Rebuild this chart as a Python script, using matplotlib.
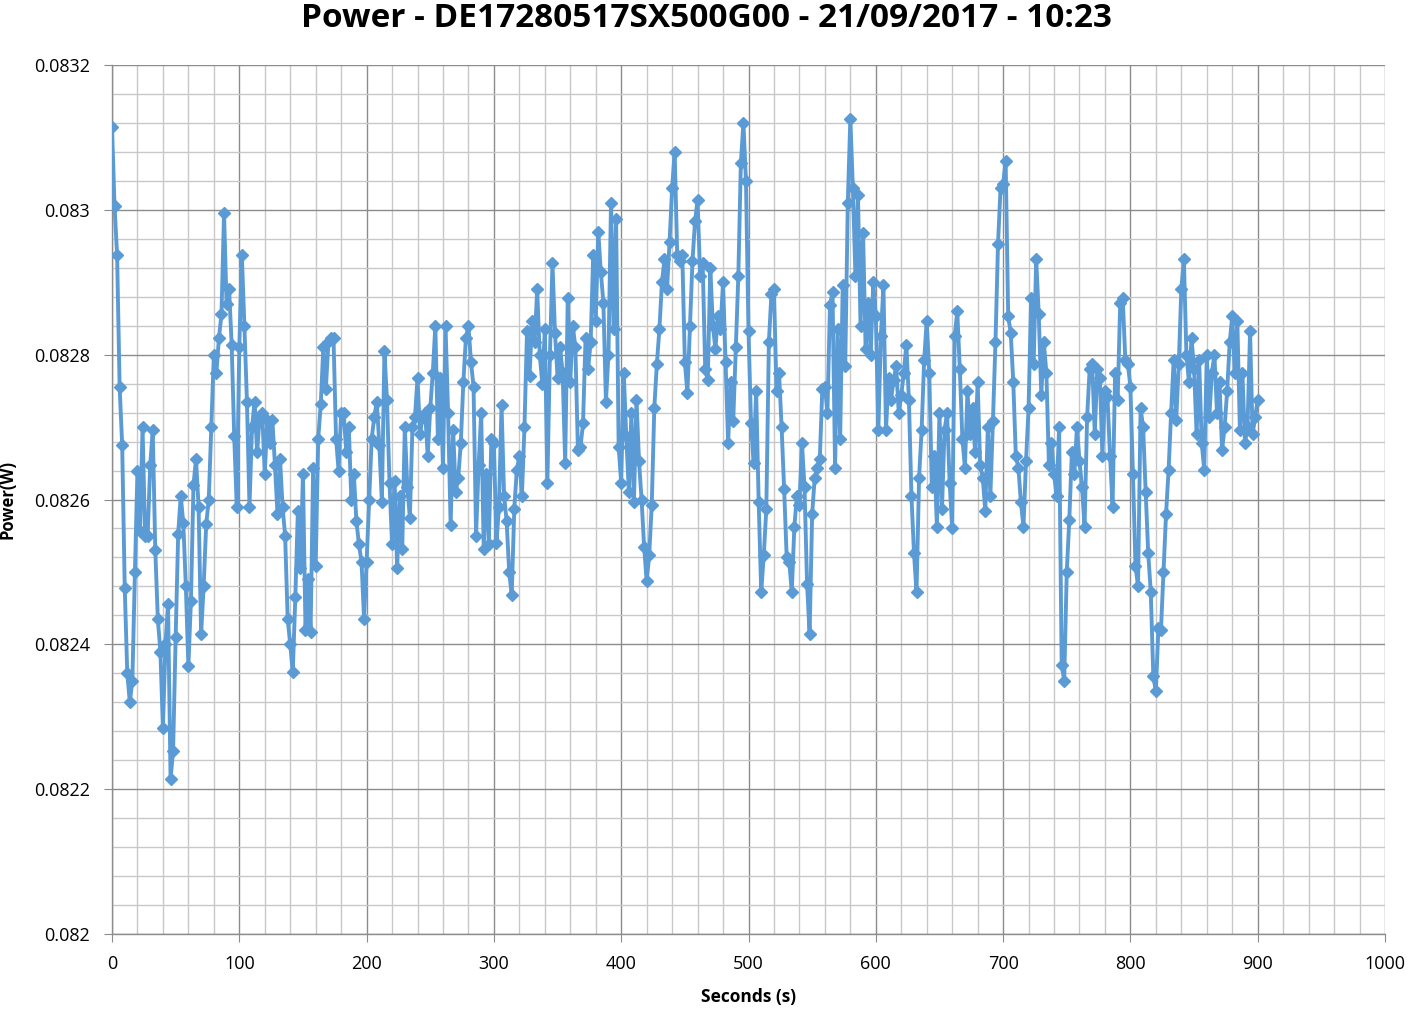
import numpy as np
import matplotlib
matplotlib.use("Agg")
import matplotlib.pyplot as plt
from matplotlib.ticker import MultipleLocator, FuncFormatter

title = "Power - DE17280517SX500G00 - 21/09/2017 - 10:23"
x_label = "Seconds (s)"
y_label = "Power(W)"

# sample interval (s) of the readings below
step_s = 2

# power readings in mW, one every step_s seconds starting at 0 s
power_0_180 = [
    83.115, 83.005, 82.938, 82.755, 82.675, 82.478, 82.36, 82.32, 82.35, 82.50,
    82.64, 82.556, 82.70, 82.55, 82.55, 82.647, 82.696, 82.53, 82.435, 82.39,
    82.284, 82.40, 82.456, 82.214, 82.253, 82.41, 82.553, 82.605, 82.568, 82.48,
    82.37, 82.46, 82.62, 82.656, 82.59, 82.414, 82.48, 82.566, 82.60, 82.70,
    82.80, 82.775, 82.823, 82.856, 82.996, 82.87, 82.89, 82.814, 82.687, 82.59,
    82.81, 82.938, 82.84, 82.735, 82.59, 82.70, 82.735, 82.665, 82.714, 82.72,
    82.635, 82.71, 82.678, 82.71, 82.647, 82.58, 82.656, 82.59, 82.55, 82.435,
    82.40, 82.362, 82.465, 82.584, 82.505, 82.635, 82.42, 82.49, 82.417, 82.644,
    82.508, 82.684, 82.732, 82.81, 82.753, 82.817, 82.823, 82.823, 82.684, 82.64,
    82.72,
]
power_182_366 = [
    82.72, 82.665, 82.70, 82.60, 82.635, 82.57, 82.538, 82.514, 82.435, 82.514,
    82.60, 82.684, 82.714, 82.735, 82.675, 82.596, 82.805, 82.738, 82.623, 82.538,
    82.626, 82.505, 82.605, 82.532, 82.70, 82.617, 82.575, 82.70, 82.714, 82.768,
    82.69, 82.714, 82.72, 82.66, 82.726, 82.775, 82.84, 82.684, 82.768, 82.644,
    82.84, 82.72, 82.565, 82.696, 82.61, 82.63, 82.678, 82.762, 82.823, 82.84,
    82.79, 82.756, 82.55, 82.647, 82.72, 82.532, 82.635, 82.538, 82.684, 82.678,
    82.54, 82.59, 82.73, 82.605, 82.57, 82.50, 82.468, 82.587, 82.641, 82.66,
    82.605, 82.70, 82.832, 82.77, 82.847, 82.817, 82.89, 82.80, 82.76, 82.835,
    82.623, 82.80, 82.926, 82.83, 82.768, 82.81, 82.775, 82.65, 82.878, 82.762,
    82.84, 82.81, 82.668,
]
power_368_550 = [
    82.672, 82.705, 82.823, 82.78, 82.817, 82.938, 82.847, 82.97, 82.914, 82.872,
    82.735, 82.80, 83.01, 82.835, 82.987, 82.672, 82.623, 82.775, 82.687, 82.61,
    82.72, 82.596, 82.738, 82.653, 82.60, 82.535, 82.487, 82.523, 82.593, 82.726,
    82.787, 82.835, 82.90, 82.932, 82.89, 82.956, 83.03, 83.08, 82.938, 82.93,
    82.938, 82.79, 82.747, 82.84, 82.93, 82.984, 83.014, 82.908, 82.926, 82.78,
    82.765, 82.92, 82.84, 82.808, 82.853, 82.835, 82.90, 82.79, 82.678, 82.762,
    82.708, 82.81, 82.908, 83.065, 83.12, 83.04, 82.832, 82.705, 82.65, 82.75,
    82.596, 82.472, 82.523, 82.587, 82.817, 82.884, 82.89, 82.75, 82.775, 82.70,
    82.614, 82.52, 82.514, 82.472, 82.562, 82.605, 82.593, 82.678, 82.617, 82.484,
    82.414, 82.58,
]
power_552_736 = [
    82.63, 82.644, 82.656, 82.753, 82.756, 82.72, 82.868, 82.887, 82.644, 82.835,
    82.684, 82.896, 82.784, 83.01, 83.126, 83.03, 82.908, 83.02, 82.84, 82.968,
    82.808, 82.872, 82.80, 82.90, 82.853, 82.696, 82.826, 82.896, 82.696, 82.768,
    82.738, 82.765, 82.784, 82.72, 82.744, 82.775, 82.814, 82.738, 82.605, 82.526,
    82.472, 82.63, 82.696, 82.793, 82.847, 82.775, 82.617, 82.66, 82.562, 82.72,
    82.587, 82.696, 82.72, 82.623, 82.56, 82.826, 82.86, 82.78, 82.684, 82.644,
    82.75, 82.69, 82.726, 82.665, 82.762, 82.647, 82.63, 82.584, 82.70, 82.605,
    82.708, 82.817, 82.953, 83.03, 83.035, 83.068, 82.853, 82.83, 82.762, 82.66,
    82.644, 82.596, 82.562, 82.653, 82.726, 82.878, 82.787, 82.932, 82.856, 82.744,
    82.817, 82.775, 82.647,
]
power_738_900 = [
    82.678, 82.635, 82.605, 82.70, 82.372, 82.35, 82.50, 82.572, 82.665, 82.635,
    82.70, 82.653, 82.617, 82.562, 82.714, 82.78, 82.787, 82.69, 82.78, 82.768,
    82.66, 82.75, 82.741, 82.66, 82.59, 82.775, 82.738, 82.872, 82.878, 82.793,
    82.787, 82.756, 82.635, 82.508, 82.48, 82.726, 82.70, 82.61, 82.526, 82.472,
    82.356, 82.335, 82.423, 82.42, 82.50, 82.58, 82.641, 82.72, 82.793, 82.71,
    82.787, 82.89, 82.932, 82.80, 82.762, 82.823, 82.78, 82.69, 82.793, 82.678,
    82.641, 82.80, 82.714, 82.775, 82.80, 82.72, 82.762, 82.668, 82.70, 82.75,
    82.817, 82.853, 82.775, 82.847, 82.696, 82.775, 82.678, 82.70, 82.832, 82.69,
    82.714, 82.738,
]

power_mw = power_0_180 + power_182_366 + power_368_550 + power_552_736 + power_738_900
power_w = np.array(power_mw) / 1000.0
seconds = np.arange(len(power_w)) * step_s

x_min, x_max = 0, 1000
y_min, y_max = 0.0820, 0.0832

plt.rcParams['font.family'] = ['Open Sans', 'DejaVu Sans']

fig = plt.figure(figsize=(14.13, 10.15), dpi=100)
ax = fig.add_axes([112/1413, 1-934/1015, (1385-112)/1413, (934-65)/1015])

line_color = '#5B9BD5'
ax.plot(seconds, power_w, color=line_color, linewidth=2.8, marker='D',
        markersize=6.2, markerfacecolor=line_color, markeredgecolor=line_color,
        zorder=3)

ax.set_xlim(x_min, x_max)
ax.set_ylim(y_min, y_max)
ax.xaxis.set_major_locator(MultipleLocator(100))
ax.xaxis.set_minor_locator(MultipleLocator(20))
ax.yaxis.set_major_locator(MultipleLocator(0.0002))
ax.yaxis.set_minor_locator(MultipleLocator(0.00004))
ax.yaxis.set_major_formatter(FuncFormatter(lambda v, p: f"{round(v, 6):g}"))

ax.grid(which='major', color='#8c8c8c', linewidth=1.0, zorder=0)
ax.grid(which='minor', color='#c8c8c8', linewidth=1.0, zorder=0)
ax.set_axisbelow(True)

for s in ['top', 'right']:
    ax.spines[s].set_visible(False)
for s in ['left', 'bottom']:
    ax.spines[s].set_color('#8c8c8c')
    ax.spines[s].set_linewidth(1.0)

ax.tick_params(axis='both', which='major', length=6, color='#8c8c8c',
               labelsize=13, labelcolor='black', direction='out')
ax.tick_params(axis='both', which='minor', length=0)
ax.tick_params(axis='x', pad=9)
ax.tick_params(axis='y', pad=10)

ax.set_xlabel(x_label, fontsize=12.5, fontweight='bold', labelpad=11)
ax.set_ylabel(y_label, fontsize=12, fontweight='bold', labelpad=12)
fig.suptitle(title, fontsize=24, fontweight='bold', y=0.998, va='top')

fig.savefig('out.png', dpi=100)
